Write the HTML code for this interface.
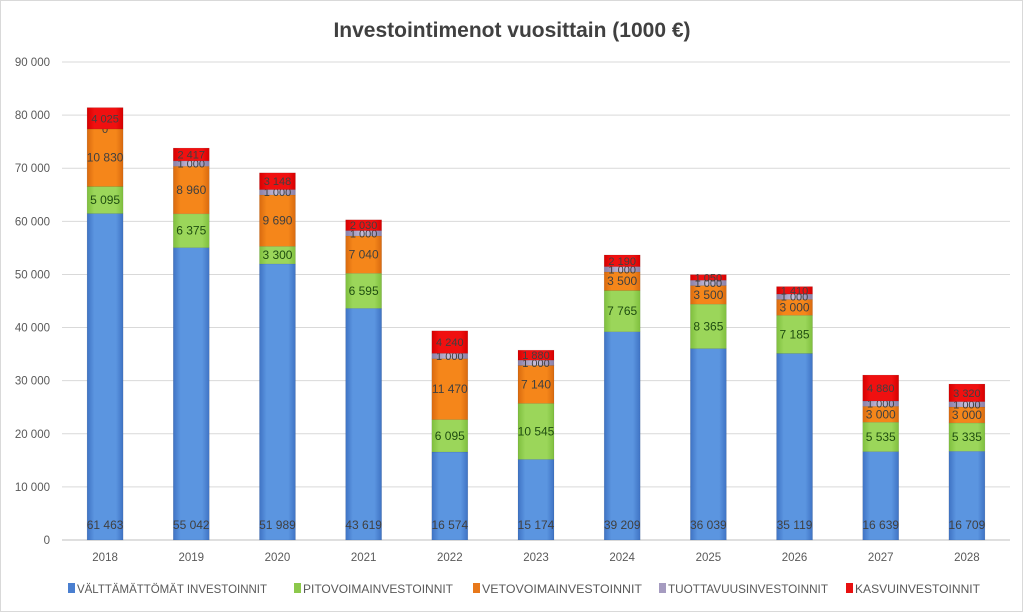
<!DOCTYPE html>
<html><head><meta charset="utf-8"><style>
body{margin:0;background:#fff;}
svg{display:block;font-family:"Liberation Sans",sans-serif;}
</style></head><body>
<svg id="chart" width="1023" height="612" viewBox="0 0 1023 612">
<defs>
<linearGradient id="gb" x1="0" x2="1"><stop offset="0" stop-color="#3f73c4"/><stop offset="0.2" stop-color="#5b95e0"/><stop offset="0.8" stop-color="#5b95e0"/><stop offset="1" stop-color="#3f73c4"/></linearGradient>
<linearGradient id="gg" x1="0" x2="1"><stop offset="0" stop-color="#7fbf3e"/><stop offset="0.2" stop-color="#9bd65a"/><stop offset="0.8" stop-color="#9bd65a"/><stop offset="1" stop-color="#7fbf3e"/></linearGradient>
<linearGradient id="go" x1="0" x2="1"><stop offset="0" stop-color="#d96a0f"/><stop offset="0.2" stop-color="#f5861a"/><stop offset="0.8" stop-color="#f5861a"/><stop offset="1" stop-color="#d96a0f"/></linearGradient>
<linearGradient id="gp" x1="0" x2="1"><stop offset="0" stop-color="#8a80a8"/><stop offset="0.5" stop-color="#c8c0dc"/><stop offset="1" stop-color="#8a80a8"/></linearGradient>
<linearGradient id="gr" x1="0" x2="1"><stop offset="0" stop-color="#d60000"/><stop offset="0.2" stop-color="#f01010"/><stop offset="0.8" stop-color="#f01010"/><stop offset="1" stop-color="#d60000"/></linearGradient>
</defs>
<rect x="0.5" y="0.5" width="1022" height="611" fill="#fff" stroke="#d9d9d9"/>
<text x="512" y="37" text-anchor="middle" font-size="21" font-weight="bold" fill="#404040">Investointimenot vuosittain (1000 €)</text>
<g id="grid"></g><g id="bars"></g><g id="xl"></g><g id="legend"></g>
</svg>
<script>
const years=["2018","2019","2020","2021","2022","2023","2024","2025","2026","2027","2028"];
const valttamattomat=[61463,55042,51989,43619,16574,15174,39209,36039,35119,16639,16709];
const pitovoima=[5095,6375,3300,6595,6095,10545,7765,8365,7185,5535,5335];
const vetovoima=[10830,8960,9690,7040,11470,7140,3500,3500,3000,3000,3000];
const tuottavuus=[0,1000,1000,1000,1000,1000,1000,1000,1000,1000,1000];
const kasvu=[4025,2417,3148,2030,4240,1880,2190,1050,1410,4880,3320];
const yTicks=[0,10000,20000,30000,40000,50000,60000,70000,80000,90000];
const seriesNames=["VÄLTTÄMÄTTÖMÄT INVESTOINNIT","PITOVOIMAINVESTOINNIT","VETOVOIMAINVESTOINNIT","TUOTTAVUUSINVESTOINNIT","KASVUINVESTOINNIT"];
const NS="http://www.w3.org/2000/svg";
const x0=62,x1=1010,y0=540,y1=62,yMax=90000;
const y=v=>y0-(v/yMax)*(y0-y1);
const bw=(x1-x0)/years.length;
const xc=i=>x0+bw*(i+0.5);
const fmt=v=>String(v).replace(/\B(?=(\d{3})+(?!\d))/g," ");
function mk(t,a,p){const e=document.createElementNS(NS,t);for(const k in a)e.setAttribute(k,a[k]);p.appendChild(e);return e;}
const grid=document.getElementById('grid');
yTicks.forEach(t=>{
  const l=mk('line',{x1:x0,x2:x1,y1:y(t),y2:y(t),stroke:t===0?'#bfbfbf':'#d9d9d9'},grid);
  
  
  const tx=mk('text',{x:50,y:y(t)+4,'text-anchor':'end','font-size':11.5,fill:'#595959'},grid);
  tx.textContent=fmt(t);
  
  
});
const series=[valttamattomat,pitovoima,vetovoima,tuottavuus,kasvu];
const fills=['url(#gb)','url(#gg)','url(#go)','url(#gp)','url(#gr)'];
const solid=['#4a7fd0','#8cc84b','#e8781a','#a59bc0','#e81010'];
const bars=document.getElementById('bars');
years.forEach((yr,i)=>{
  let acc=0;
  const w=36,bx=xc(i)-w/2;
  series.forEach((s,k)=>{
    const v=s[i];const top=y(acc+v),bot=y(acc);
    const r=mk('rect',{x:bx,y:top,width:w,height:Math.max(0,bot-top),fill:fills[k],stroke:v>0?'rgba(0,0,0,0.15)':'none','stroke-width':0.5},bars);
    
    
    const ly=k===0?529:(top+bot)/2+4;
    const tx=mk('text',{x:xc(i),y:ly,'text-anchor':'middle','font-size':k===3||k===4?11:12,fill:k===1?'#1f4d10':'#404040'},bars);
    tx.textContent=fmt(v);
    
    
    acc+=v;
  });
  const xt=mk('text',{x:xc(i),y:561,'text-anchor':'middle','font-size':11.5,fill:'#595959'},document.getElementById('xl'));
  xt.textContent=yr;
  
  
});
const lg=document.getElementById('legend');
const lx=[68,294,473,659,846],lw=[190,150,160,160,125];
seriesNames.forEach((n,k)=>{
  const r=mk('rect',{x:lx[k],y:583,width:7,height:10,fill:solid[k]},lg);
  
  
  const t=mk('text',{x:lx[k]+9,y:593,'font-size':12,fill:'#595959',textLength:lw[k],lengthAdjust:'spacingAndGlyphs'},lg);
  t.textContent=n;
  
  
});
</script>
</body></html>
